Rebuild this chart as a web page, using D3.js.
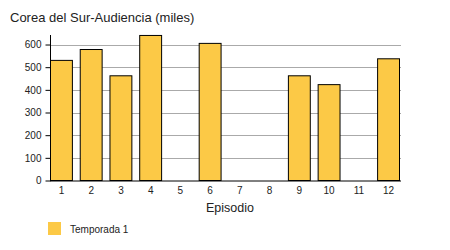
<!DOCTYPE html>
<html>
<head>
<meta charset="utf-8">
<script src="https://cdn.jsdelivr.net/npm/d3@7"></script>
<style>
body { margin: 0; background: #fff; }
svg text { font-family: "Liberation Sans", Arial, sans-serif; }
</style>
</head>
<body>
<svg id="svg" width="450" height="250"></svg>
<script>
var episodes = ["1","2","3","4","5","6","7","8","9","10","11","12"]
var audience = [530, 578, 462, 640, null, 605, null, null, 462, 423, null, 537]
var yTicks = [0, 100, 200, 300, 400, 500, 600]

var svg = d3.select("svg")
var plotLeft = 50, plotRight = 400, plotTop = 35, plotBottom = 180.5

var x = d3.scaleBand().domain(episodes).range([plotLeft, plotRight]).paddingInner(0.23).paddingOuter(0)
var y = d3.scaleLinear().domain([0, 642]).range([plotBottom, plotTop])

// título
svg.append("text")
  .attr("x", 10).attr("y", 22)
  .attr("font-size", 13).attr("fill", "#222")
  .text("Corea del Sur-Audiencia (miles)")

// rejilla
svg.append("g").selectAll("line")
  .data(yTicks.slice(1))
  .enter().append("line")
  .attr("x1", plotLeft).attr("x2", plotRight + 1)
  .attr("y1", function(d) { return Math.round(y(d)) + 0.5 })
  .attr("y2", function(d) { return Math.round(y(d)) + 0.5 })
  .attr("stroke", "#aaa").attr("stroke-width", 1)

// barras
svg.append("g").selectAll("rect")
  .data(episodes.map(function(e, i) { return {ep: e, v: audience[i]} }).filter(function(d) { return d.v != null }))
  .enter().append("rect")
  .attr("x", function(d) { return x(d.ep) + 0.5 })
  .attr("y", function(d) { return y(d.v) })
  .attr("width", x.bandwidth() - 1)
  .attr("height", function(d) { return plotBottom - y(d.v) })
  .attr("fill", "#fcc946")
  .attr("stroke", "#000").attr("stroke-width", 1)

// eje y
var yAxis = svg.append("g")
  .attr("transform", "translate(" + (plotLeft + 0.5) + ",0)")
  .call(d3.axisLeft(y).tickValues(yTicks).tickSize(5).tickPadding(4))
yAxis.select(".domain").attr("d", "M0," + plotTop + "V" + plotBottom)
yAxis.selectAll("text").attr("font-size", 10).attr("fill", "#222").style("font-family", "Liberation Sans, Arial, sans-serif")

// eje x
var xAxis = svg.append("g")
  .attr("transform", "translate(0," + (plotBottom + 0.5) + ")")
  .call(d3.axisBottom(x).tickSize(0).tickPadding(6))
xAxis.select(".domain").attr("d", "M" + plotLeft + ",0H" + (plotRight + 1))
xAxis.selectAll("text").attr("font-size", 10).attr("fill", "#222").style("font-family", "Liberation Sans, Arial, sans-serif")

svg.append("text")
  .attr("x", 230).attr("y", 212)
  .attr("text-anchor", "middle")
  .attr("font-size", 12.5).attr("fill", "#222")
  .text("Episodio")

// leyenda
svg.append("rect")
  .attr("x", 48).attr("y", 222).attr("width", 13).attr("height", 13)
  .attr("fill", "#fcc946")
svg.append("text")
  .attr("x", 70).attr("y", 233)
  .attr("font-size", 10).attr("fill", "#222")
  .text("Temporada 1")
</script>
</body>
</html>
